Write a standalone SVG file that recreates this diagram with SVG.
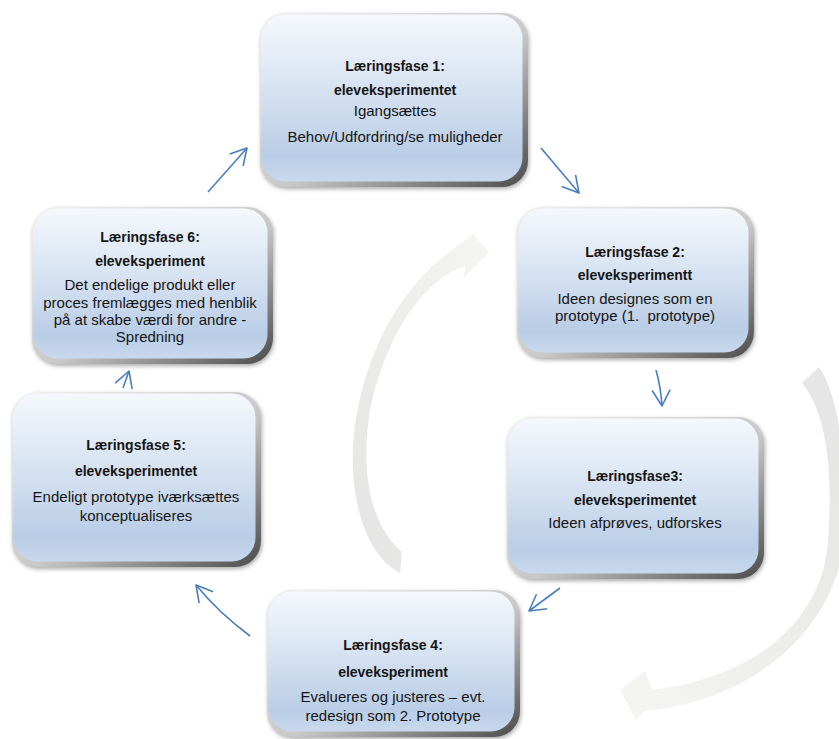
<svg xmlns="http://www.w3.org/2000/svg" width="839" height="739" viewBox="0 0 839 739">
<defs>
<linearGradient id="edge" x1="0" y1="0" x2="1" y2="1">
<stop offset="0" stop-color="#f2f2f2"/>
<stop offset="0.55" stop-color="#c8c8c8"/>
<stop offset="1" stop-color="#4a4a4a"/>
</linearGradient>
<linearGradient id="fill" x1="0" y1="0" x2="0" y2="1">
<stop offset="0" stop-color="#f5f8fc"/>
<stop offset="0.4" stop-color="#dae5f3"/>
<stop offset="0.85" stop-color="#b9cde6"/>
<stop offset="1" stop-color="#c9d9ed"/>
</linearGradient>
<linearGradient id="grayL" x1="0" y1="1" x2="1" y2="0">
<stop offset="0" stop-color="#e4e4e4"/>
<stop offset="1" stop-color="#f5f5f2"/>
</linearGradient>
<linearGradient id="grayR" x1="1" y1="0" x2="0" y2="1">
<stop offset="0" stop-color="#e4e4e4"/>
<stop offset="1" stop-color="#f5f5f2"/>
</linearGradient>
<filter id="sh" x="-10%" y="-10%" width="120%" height="120%">
<feGaussianBlur stdDeviation="2"/>
</filter>
<marker id="ah" markerUnits="userSpaceOnUse" viewBox="-18 -11 20 22" refX="0" refY="0" markerWidth="20" markerHeight="22" orient="auto">
<path d="M-16,-9 L0,0 L-16,9" fill="none" stroke="#4a7ebb" stroke-width="1.6" stroke-linejoin="round"/>
</marker>
</defs>
<style>
.shadow{fill:#444;opacity:0.45;filter:url(#sh)}
.edge{fill:url(#edge)}
.face{fill:url(#fill)}
text{font-family:"Liberation Sans",Arial,sans-serif;font-size:15px;fill:#151515;text-anchor:middle}
.b{font-weight:bold;font-size:14px}
.conn{fill:none;stroke:#4a7ebb;stroke-width:1.6;marker-end:url(#ah)}
</style>
<rect width="839" height="739" fill="#ffffff"/>

<g id="cycle-arrows">
<path fill="url(#grayL)" d="M402 552 L400 573 C375 560 356 525 353 470 C350 400 380 300 455 248 L473 234 L489 252 L463 278 L466 266 C420 280 385 340 370 410 C362 460 365 520 402 552 Z"/>
<path fill="url(#grayR)" d="M802 383 C825 410 835 470 827 550 C820 610 770 675 652 690 L645 671 L620 690 L636 720 L645 711 C760 700 850 620 846 510 C845 440 835 390 819 367 Z"/>
</g>

<g id="node1">
<rect class="shadow" x="261" y="15" width="268" height="174" rx="26"/>
<rect class="edge" x="260" y="13" width="268" height="174" rx="26"/>
<rect class="face" x="261.5" y="14.5" width="261" height="167" rx="24"/>
<text class="b" x="395" y="71">Læringsfase 1:</text>
<text class="b" x="395" y="95">eleveksperimentet</text>
<text x="395" y="116">Igangsættes</text>
<text x="395" y="142">Behov/Udfordring/se muligheder</text>
</g>

<g id="node2">
<rect class="shadow" x="518" y="209" width="237" height="151" rx="26"/>
<rect class="edge" x="517" y="207" width="237" height="151" rx="26"/>
<rect class="face" x="518.5" y="208.5" width="230" height="144" rx="24"/>
<text class="b" x="635" y="257">Læringsfase 2:</text>
<text class="b" x="635" y="280">eleveksperimentt</text>
<text x="635" y="304">Ideen designes som en</text>
<text x="635" y="321">prototype (1.&#160; prototype)</text>
</g>

<g id="node3">
<rect class="shadow" x="508" y="419" width="257" height="162" rx="26"/>
<rect class="edge" x="507" y="417" width="257" height="162" rx="26"/>
<rect class="face" x="508.5" y="418.5" width="250" height="155" rx="24"/>
<text class="b" x="635" y="481">Læringsfase3:</text>
<text class="b" x="635" y="505">eleveksperimentet</text>
<text x="635" y="528">Ideen afprøves, udforskes</text>
</g>

<g id="node4">
<rect class="shadow" x="268" y="592" width="253" height="147" rx="26"/>
<rect class="edge" x="267" y="590" width="253" height="147" rx="26"/>
<rect class="face" x="268.5" y="591.5" width="246" height="140" rx="24"/>
<text class="b" x="393" y="650">Læringsfase 4:</text>
<text class="b" x="393" y="677">eleveksperiment</text>
<text x="393" y="702">Evalueres og justeres – evt.</text>
<text x="393" y="721">redesign som 2. Prototype</text>
</g>

<g id="node5">
<rect class="shadow" x="13" y="394" width="249" height="175" rx="26"/>
<rect class="edge" x="12" y="392" width="249" height="175" rx="26"/>
<rect class="face" x="13.5" y="393.5" width="242" height="168" rx="24"/>
<text class="b" x="136" y="450">Læringsfase 5:</text>
<text class="b" x="136" y="476">eleveksperimentet</text>
<text x="136" y="502">Endeligt prototype iværksættes</text>
<text x="136" y="521">konceptualiseres</text>
</g>

<g id="node6">
<rect class="shadow" x="33" y="209" width="241" height="157" rx="26"/>
<rect class="edge" x="32" y="207" width="241" height="157" rx="26"/>
<rect class="face" x="33.5" y="208.5" width="234" height="150" rx="24"/>
<text class="b" x="150" y="242">Læringsfase 6:</text>
<text class="b" x="150" y="266">eleveksperiment</text>
<text x="150" y="290">Det endelige produkt eller</text>
<text x="150" y="308">proces fremlægges med henblik</text>
<text x="150" y="325">på at skabe værdi for andre -</text>
<text x="150" y="342">Spredning</text>
</g>

<g id="connectors">
<path class="conn" d="M208 192 L247 148"/>
<path class="conn" d="M541 148 L579 193"/>
<path class="conn" d="M656 370 Q661 388 662 406"/>
<path class="conn" d="M560 588 L529 611"/>
<path class="conn" d="M250 636 Q218 612 196 585"/>
<path class="conn" d="M123 388 L129 371"/>
</g>
</svg>
